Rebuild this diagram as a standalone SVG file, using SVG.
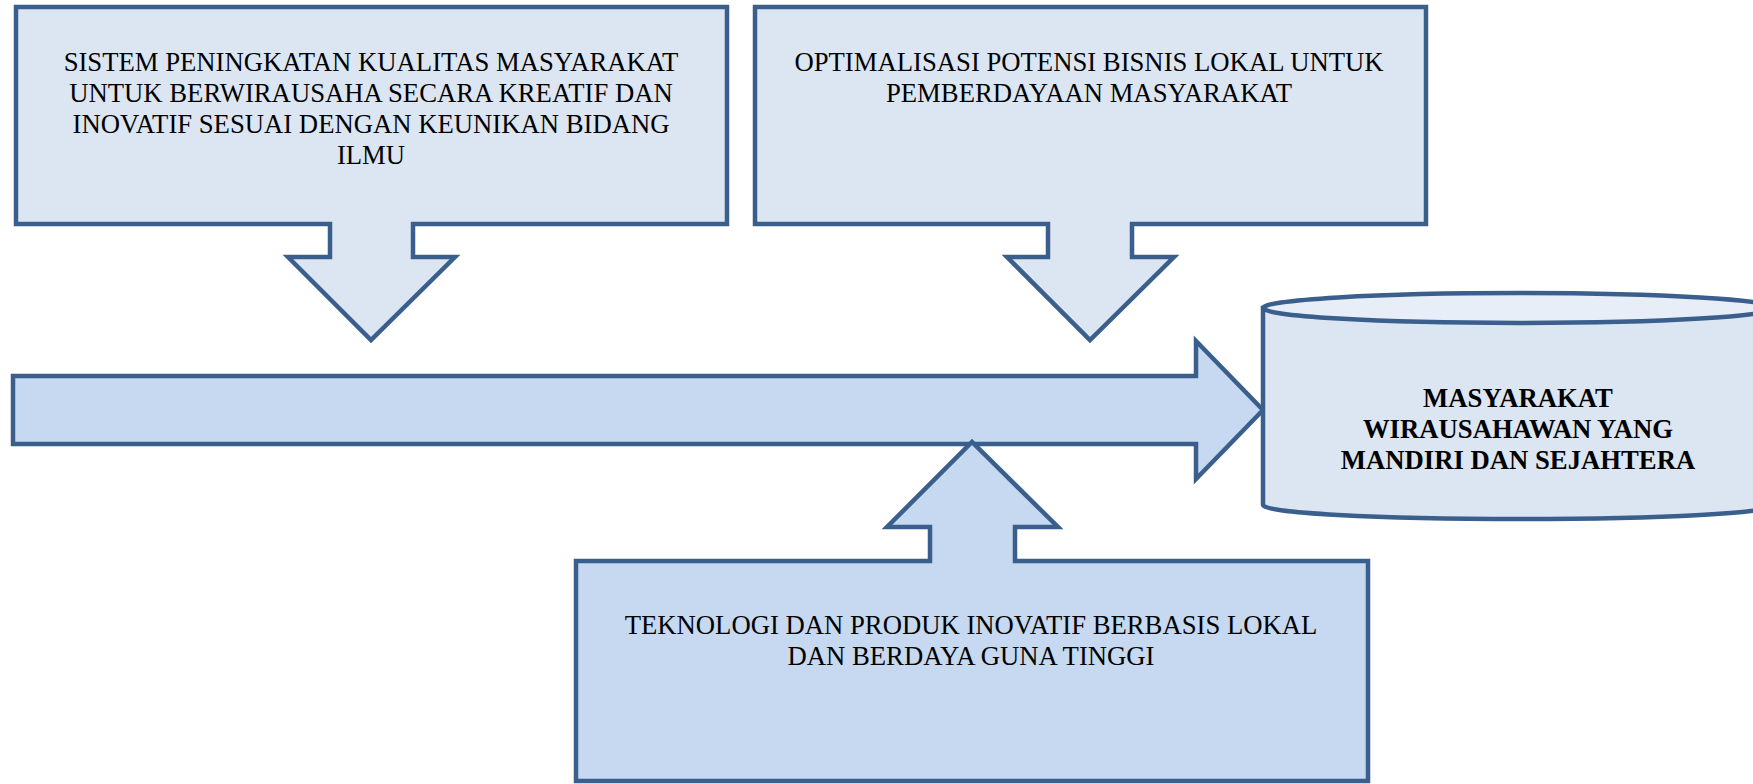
<svg xmlns="http://www.w3.org/2000/svg" width="1753" height="784" viewBox="0 0 1753 784">
<style>
.shape{stroke:#3A5F8D;stroke-width:4.5;stroke-linejoin:miter}
.light{fill:#DCE6F2}
.mid{fill:#C6D9F1}
.lid{fill:#E8EEF7}
.t{font-family:"Liberation Serif","Times New Roman",serif;font-size:26.7px;fill:#000;text-anchor:middle}
.b{font-weight:bold}
</style>
<rect width="1753" height="784" fill="#FFFFFF"/>
<g id="connectors">
<path class="shape mid" d="M13,376 H1196 V341 L1263,410 L1196,479 V444 H13 Z"/>
</g>
<g id="node-sistem">
<path class="shape light" d="M16,7 H727 V224 H413 V257 H455 L371,340 L288,257 H330 V224 H16 Z"/>
<text class="t" x="371" y="71">SISTEM PENINGKATAN KUALITAS MASYARAKAT</text>
<text class="t" x="371" y="102">UNTUK BERWIRAUSAHA SECARA KREATIF DAN</text>
<text class="t" x="371" y="133">INOVATIF SESUAI DENGAN KEUNIKAN BIDANG</text>
<text class="t" x="371" y="164">ILMU</text>
</g>
<g id="node-optimalisasi">
<path class="shape light" d="M755,7 H1426 V224 H1132 V257 H1174 L1090,340 L1007,257 H1048 V224 H755 Z"/>
<text class="t" x="1089" y="71">OPTIMALISASI POTENSI BISNIS LOKAL UNTUK</text>
<text class="t" x="1089" y="102">PEMBERDAYAAN MASYARAKAT</text>
</g>
<g id="node-teknologi">
<path class="shape mid" d="M576,561 H930 V527 H887 L972,442 L1058,527 H1015 V561 H1368 V781 H576 Z"/>
<text class="t" x="971" y="634">TEKNOLOGI DAN PRODUK INOVATIF BERBASIS LOKAL</text>
<text class="t" x="971" y="665">DAN BERDAYA GUNA TINGGI</text>
</g>
<g id="node-masyarakat">
<path class="shape light" d="M1263,308 V505 A256,14 0 0 0 1775,505 V308 Z"/>
<ellipse class="shape lid" cx="1519" cy="308" rx="256" ry="15"/>
<text class="t b" x="1518" y="407">MASYARAKAT</text>
<text class="t b" x="1518" y="438">WIRAUSAHAWAN YANG</text>
<text class="t b" x="1518" y="469">MANDIRI DAN SEJAHTERA</text>
</g>
</svg>
